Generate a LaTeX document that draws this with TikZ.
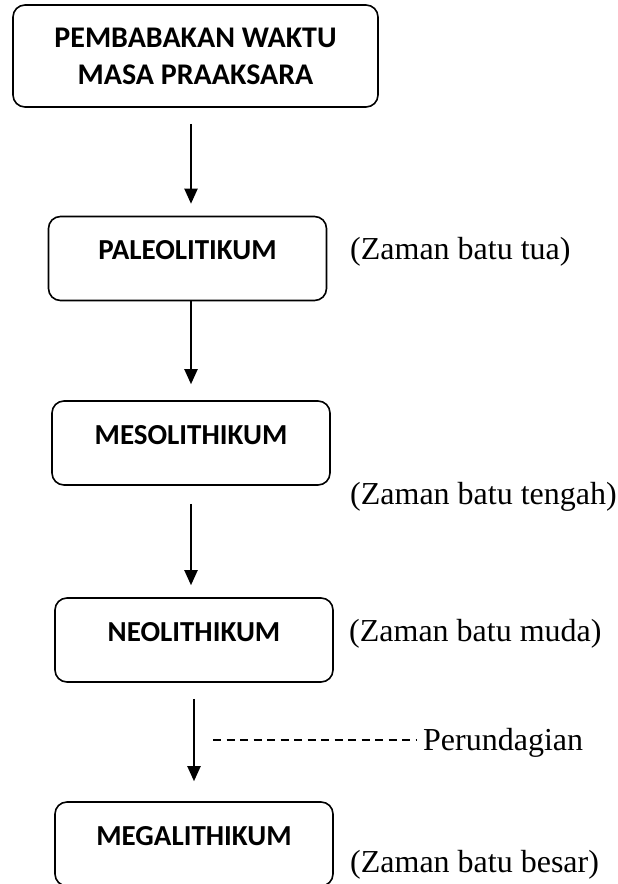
\documentclass[tikz,border=0pt]{standalone}
\usepackage{fontspec}
\setmainfont{Liberation Serif}
\newfontfamily\calibri{Carlito}
\usetikzlibrary{arrows.meta, positioning, calc}

\begin{document}
\begin{tikzpicture}[x=1pt, y=-1pt,
  stage/.style={draw, line width=1.6pt, rounded corners=12pt,
    minimum width=278pt, minimum height=84pt, inner sep=0pt,
    font=\calibri\bfseries\fontsize{29}{35}\selectfont,
    text height=10pt, text depth=7.4pt},
  era/.style={anchor=west, inner sep=0pt, font=\fontsize{32}{38}\selectfont},
  flow/.style={line width=2pt, -{Triangle[length=15pt,width=13pt]}}]

  % Page
  \clip (0,0) rectangle (618,884);

  % Title
  \node[stage, minimum width=365pt, minimum height=102pt, align=center,
    font=\calibri\bfseries\fontsize{30}{37}\selectfont,
    text height=, text depth=] (praaksara) at (195.5,56)
    {PEMBABAKAN WAKTU\\MASA PRAAKSARA};

  % Stages
  \node[stage] (paleo) at (187.5,258.5) {PALEOLITIKUM};
  \node[stage] (meso) at (191,443) {MESOLITHIKUM};
  \node[stage] (neo) at (194,640) {NEOLITHIKUM};
  \node[stage] (mega) at (194,844) {MEGALITHIKUM};

  % Names of the ages
  \node[era] (tua) at (350,252) {(Zaman batu tua)};
  \node[era] (tengah) at (350,497) {(Zaman batu tengah)};
  \node[era] (muda) at (349,634) {(Zaman batu muda)};
  \node[era] (besar) at (350,865) {(Zaman batu besar)};
  \node[era] (perundagian) at (423,743) {Perundagian};

  % Arrows
  \draw[flow, shorten <=16pt, shorten >=12pt]
    ([xshift=-4.5pt]praaksara.south) -- ([xshift=-4.5pt]praaksara.south |- paleo.north);
  \draw[flow, shorten >=16pt]
    ([xshift=3.5pt]paleo.south) -- ([xshift=3.5pt]paleo.south |- meso.north);
  \draw[flow, shorten <=18pt, shorten >=12pt] (meso.south) -- (meso.south |- neo.north);
  \draw[flow, shorten <=16pt, shorten >=20pt] (neo.south) -- (neo.south |- mega.north);

  % Perundagian
  \coordinate (dash) at (213,740);
  \draw[line width=1.1pt, dash pattern=on 8pt off 5.5pt, shorten >=6pt]
    (dash) -- (dash -| perundagian.west);

\end{tikzpicture}
\end{document}
